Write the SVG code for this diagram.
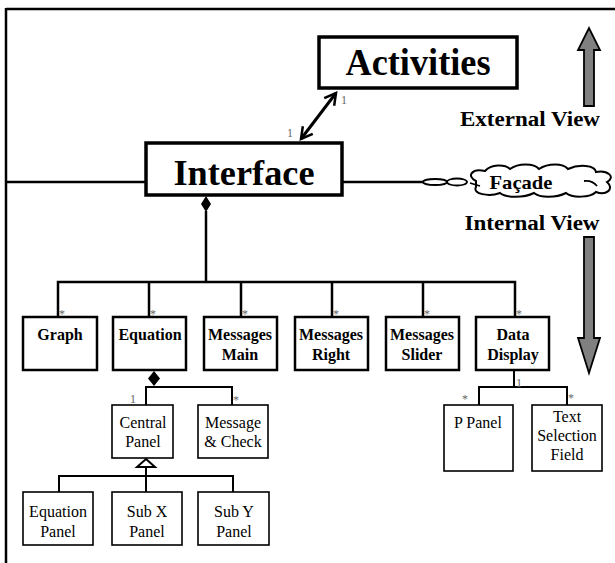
<svg xmlns="http://www.w3.org/2000/svg" width="615" height="563" viewBox="0 0 615 563">
  <defs>
    <style>
      .big { font-family: "Liberation Serif", "Times New Roman", serif; font-weight: bold; text-anchor: middle; fill: #000; }
      .nb { font-family: "Liberation Serif", "Times New Roman", serif; font-weight: bold; font-size: 16px; text-anchor: middle; fill: #000; }
      .nr { font-family: "Liberation Serif", "Times New Roman", serif; font-size: 16px; text-anchor: middle; fill: #000; }
      .mult { font-family: "Liberation Serif", "Times New Roman", serif; font-size: 12px; fill: #666; }
      .box { fill: #fff; stroke: #000; stroke-width: 2.5; }
      .thin { fill: #fff; stroke: #000; stroke-width: 1.6; }
      .heavy { fill: #fff; stroke: #000; stroke-width: 3.5; }
      .ln { fill: none; stroke: #000; stroke-width: 2.5; }
      .ln2 { fill: none; stroke: #000; stroke-width: 2; }
      .view { fill: #808080; stroke: #000; stroke-width: 1.8; stroke-linejoin: miter; }
    </style>
    <marker id="openArrow" viewBox="0 0 12 12" refX="10" refY="6" markerWidth="5" markerHeight="5" orient="auto-start-reverse" markerUnits="strokeWidth">
      <path d="M1,1 L10,6 L1,11" fill="none" stroke="#000" stroke-width="2"/>
    </marker>
  </defs>

  <!-- frame -->
  <g id="frame">
    <line x1="6" y1="9" x2="615" y2="9" class="ln"/>
    <line x1="6" y1="8" x2="6" y2="563" class="ln"/>
  </g>

  <!-- connectors -->
  <g id="connectors">
    <line x1="6" y1="182" x2="146" y2="182" class="ln"/>
    <line x1="342" y1="182" x2="424" y2="182" class="ln"/>
    <ellipse cx="435" cy="182" rx="12" ry="3" fill="#fff" stroke="#000" stroke-width="1.8"/>
    <ellipse cx="457" cy="182" rx="10" ry="3.5" fill="#fff" stroke="#000" stroke-width="1.8"/>
    <!-- Interface to Activities -->
    <line x1="301" y1="139" x2="336" y2="93" stroke="#000" stroke-width="3" marker-start="url(#openArrow)" marker-end="url(#openArrow)"/>
    <!-- Interface composition -->
    <polygon points="206,196 211,204 206,212 201,204" fill="#000"/>
    <line x1="206" y1="211" x2="206" y2="282" class="ln"/>
    <polyline points="58,317 58,282 515,282 515,317" class="ln"/>
    <line x1="149" y1="282" x2="149" y2="317" class="ln"/>
    <line x1="241" y1="282" x2="241" y2="317" class="ln"/>
    <line x1="332" y1="282" x2="332" y2="317" class="ln"/>
    <line x1="423" y1="282" x2="423" y2="317" class="ln"/>
    <!-- Equation composition -->
    <polygon points="154,371 160,378.5 154,386 148,378.5" fill="#000"/>
    <polyline points="146,405 146,387 232,387 232,405" class="ln2"/>
    <!-- Central Panel generalisation -->
    <polygon points="146,459 155,467 137,467" fill="#fff" stroke="#000" stroke-width="2"/>
    <line x1="146" y1="467" x2="146" y2="492" class="ln2"/>
    <polyline points="59,492 59,476 233,476 233,492" class="ln2"/>
    <!-- Data Display composition -->
    <line x1="514" y1="370" x2="514" y2="387" class="ln2"/>
    <polyline points="479,405 479,387 567,387 567,405" class="ln2"/>
  </g>

  <!-- multiplicities -->
  <g id="labels">
    <text x="341" y="104" class="mult">1</text>
    <text x="287" y="137" class="mult">1</text>
    <text x="59" y="318" class="mult">*</text>
    <text x="150" y="318" class="mult">*</text>
    <text x="242" y="318" class="mult">*</text>
    <text x="333" y="318" class="mult">*</text>
    <text x="424" y="318" class="mult">*</text>
    <text x="516" y="318" class="mult">*</text>
    <text x="130" y="403" class="mult">1</text>
    <text x="233" y="404" class="mult">*</text>
    <text x="516" y="387" class="mult">1</text>
    <text x="462" y="403" class="mult">*</text>
    <text x="568" y="402" class="mult">*</text>
  </g>

  <g id="activities">
    <rect x="319" y="37" width="198" height="51" class="heavy"/>
    <text x="418" y="75" class="big" font-size="38" textLength="145" lengthAdjust="spacingAndGlyphs">Activities</text>
  </g>

  <g id="interface">
    <rect x="146" y="143" width="196" height="52" class="heavy"/>
    <text x="244" y="185" class="big" font-size="35" textLength="141" lengthAdjust="spacingAndGlyphs">Interface</text>
  </g>

  <g id="facade">
    <path d="M476,181 C466,176 472,168 485,171 C491,164 505,164 510,169 C518,163 534,163 539,169 C548,163 563,163 568,169 C579,164 595,165 596,172 C608,170 616,177 607,182 C615,189 606,196 596,192 C590,198 572,198 566,193 C556,198 540,198 534,193 C524,198 506,198 500,193 C489,197 472,194 476,187 Z" fill="#fff" stroke="#000" stroke-width="2"/>
    <path d="M470,183 L480,186" fill="none" stroke="#000" stroke-width="1.8"/>
    <path d="M584,181 Q592,180 597,186" fill="none" stroke="#000" stroke-width="1.8"/>
    <text x="521" y="189" class="big" font-size="19" textLength="63" lengthAdjust="spacingAndGlyphs">Façade</text>
  </g>

  <g id="external-view">
    <polygon points="584,106 594,106 594,50 600,50 589,28 578,50 584,50" class="view"/>
    <text x="530" y="126" class="big" font-size="20" textLength="140" lengthAdjust="spacingAndGlyphs">External View</text>
  </g>

  <g id="internal-view">
    <text x="532" y="230" class="big" font-size="20" textLength="135" lengthAdjust="spacingAndGlyphs">Internal View</text>
    <polygon points="584,237 594,237 594,338 600,338 589,373 578,338 584,338" class="view"/>
  </g>

  <g id="graph">
    <rect x="23" y="317" width="74" height="53" class="box"/>
    <text x="60" y="340" class="nb">Graph</text>
  </g>
  <g id="equation">
    <rect x="113" y="317" width="73" height="53" class="box"/>
    <text x="150" y="340" class="nb">Equation</text>
  </g>
  <g id="messages-main">
    <rect x="204" y="317" width="73" height="53" class="box"/>
    <text x="240" y="340" class="nb">Messages</text>
    <text x="240" y="360" class="nb">Main</text>
  </g>
  <g id="messages-right">
    <rect x="295" y="317" width="73" height="53" class="box"/>
    <text x="331" y="340" class="nb">Messages</text>
    <text x="331" y="360" class="nb">Right</text>
  </g>
  <g id="messages-slider">
    <rect x="386" y="317" width="73" height="53" class="box"/>
    <text x="422" y="340" class="nb">Messages</text>
    <text x="422" y="360" class="nb">Slider</text>
  </g>
  <g id="data-display">
    <rect x="476" y="317" width="73" height="53" class="box"/>
    <text x="513" y="340" class="nb">Data</text>
    <text x="513" y="360" class="nb">Display</text>
  </g>

  <g id="central-panel">
    <rect x="112" y="405" width="61" height="53" class="thin"/>
    <text x="143" y="428" class="nr">Central</text>
    <text x="143" y="447" class="nr">Panel</text>
  </g>
  <g id="message-check">
    <rect x="198" y="405" width="70" height="53" class="thin"/>
    <text x="233" y="428" class="nr">Message</text>
    <text x="233" y="447" class="nr">&amp; Check</text>
  </g>
  <g id="equation-panel">
    <rect x="23" y="492" width="70" height="53" class="thin"/>
    <text x="58" y="517" class="nr">Equation</text>
    <text x="58" y="537" class="nr">Panel</text>
  </g>
  <g id="sub-x-panel">
    <rect x="112" y="492" width="70" height="53" class="thin"/>
    <text x="147" y="517" class="nr">Sub X</text>
    <text x="147" y="537" class="nr">Panel</text>
  </g>
  <g id="sub-y-panel">
    <rect x="198" y="492" width="71" height="53" class="thin"/>
    <text x="234" y="517" class="nr">Sub Y</text>
    <text x="234" y="537" class="nr">Panel</text>
  </g>
  <g id="p-panel">
    <rect x="444" y="405" width="69" height="66" class="thin"/>
    <text x="478" y="428" class="nr">P Panel</text>
  </g>
  <g id="text-selection-field">
    <rect x="532" y="405" width="70" height="66" class="thin"/>
    <text x="567" y="422" class="nr">Text</text>
    <text x="567" y="441" class="nr">Selection</text>
    <text x="567" y="460" class="nr">Field</text>
  </g>
</svg>
